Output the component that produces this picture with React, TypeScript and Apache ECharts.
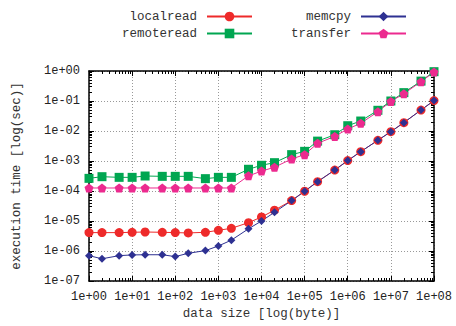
import React, { useEffect, useRef } from "react";
import * as echarts from "echarts";

const sizes = [1, 2, 5, 10, 20, 50, 100, 200, 500, 1e3, 2e3, 5e3, 1e4, 2e4, 5e4, 1e5, 2e5, 5e5, 1e6, 2e6, 5e6, 1e7, 2e7, 5e7, 1e8];
const localread = [4.1e-6, 4.1e-6, 4.1e-6, 4.2e-6, 4.3e-6, 4.2e-6, 4.1e-6, 4.0e-6, 4.2e-6, 4.9e-6, 5.7e-6, 8.8e-6, 1.36e-5, 2.3e-5, 4.8e-5, 9.8e-5, 2.05e-4, 5.0e-4, 1.03e-3, 2.05e-3, 4.9e-3, 9.5e-3, 1.9e-2, 0.05, 0.103];
const remoteread = [2.64e-4, 3.0e-4, 2.85e-4, 2.85e-4, 3.16e-4, 3.08e-4, 3.08e-4, 3.08e-4, 2.58e-4, 2.85e-4, 2.85e-4, 5.3e-4, 7.2e-4, 8.8e-4, 1.63e-3, 2.1e-3, 4.6e-3, 7.5e-3, 1.5e-2, 2.15e-2, 4.9e-2, 0.1, 0.19, 0.46, 0.95];
const memcpy = [7.0e-7, 5.5e-7, 7.0e-7, 7.4e-7, 7.5e-7, 7.5e-7, 6.5e-7, 8.4e-7, 1.03e-6, 1.47e-6, 2.3e-6, 5.5e-6, 1.0e-5, 1.95e-5, 4.8e-5, 9.8e-5, 2.05e-4, 5.0e-4, 1.03e-3, 2.05e-3, 4.9e-3, 9.5e-3, 1.9e-2, 0.05, 0.103];
const transfer = [1.26e-4, 1.26e-4, 1.26e-4, 1.26e-4, 1.26e-4, 1.26e-4, 1.26e-4, 1.26e-4, 1.26e-4, 1.26e-4, 1.26e-4, 3.2e-4, 4.6e-4, 6.2e-4, 1.17e-3, 1.63e-3, 3.9e-3, 6.6e-3, 1.17e-2, 1.8e-2, 4.4e-2, 0.097, 0.175, 0.44, 0.93];

const xMin = 1, xMax = 1e8;
const yMin = 1e-7, yMax = 1;

const FONT = "Liberation Mono";

function minorValues(lo: number, hi: number) {
  const out: number[] = [];
  for (let e = Math.round(Math.log10(lo)); e < Math.round(Math.log10(hi)); e++) {
    for (let k = 2; k <= 9; k++) out.push(k * Math.pow(10, e));
  }
  return out;
}

function fmt(v: number) {
  const e = Math.round(Math.log10(v));
  return "1e" + (e < 0 ? "-" : "+") + String(Math.abs(e)).padStart(2, "0");
}

export default function App() {
  const ref = useRef<HTMLDivElement>(null);
  useEffect(() => {
    if (!ref.current) return;
    const chart = echarts.init(ref.current, undefined, { renderer: "svg" });
    const pentagon = "path://M0,-10L9.51,-3.09L5.88,8.09L-5.88,8.09L-9.51,-3.09Z";
    const mk = (name: string, ys: number[], color: string, symbol: string, size: number) => ({
      name,
      type: "line",
      xAxisIndex: 0,
      yAxisIndex: 0,
      data: sizes.map((x, i) => [x, ys[i]]),
      symbol,
      symbolSize: size,
      lineStyle: { color, width: 1 },
      itemStyle: { color },
      emphasis: { disabled: true },
    });
    const border = { show: true, lineStyle: { color: "#000", width: 1.5 } };
    const baseX = { type: "log", logBase: 10, min: xMin, max: xMax, interval: 1 };
    const baseY = { type: "log", logBase: 10, min: yMin, max: yMax, interval: 1 };
    const hiddenLabel = { show: false };
    const majorTick = { show: true, inside: true, length: 5, lineStyle: { color: "#000" } };
    const minorTickX = { show: true, inside: true, length: 3, lineStyle: { color: "#000" }, customValues: minorValues(xMin, xMax) };
    const minorTickY = { show: true, inside: true, length: 3, lineStyle: { color: "#000" }, customValues: minorValues(yMin, yMax) };
    const option: any = {
      animation: false,
      grid: { left: 89, right: 22, top: 71, bottom: 45, containLabel: false },
      legend: [
        {
          data: ["localread", "remoteread"],
          orient: "vertical",
          align: "right",
          right: 203,
          top: 10,
          padding: 0,
          itemWidth: 45,
          itemHeight: 12,
          itemGap: 4,
          textStyle: { fontFamily: FONT, fontSize: 12.5, color: "#333", padding: [0, 5, 0, 0] },
        },
        {
          data: ["memcpy", "transfer"],
          orient: "vertical",
          align: "right",
          right: 49,
          top: 10,
          padding: 0,
          itemWidth: 45,
          itemHeight: 12,
          itemGap: 4,
          textStyle: { fontFamily: FONT, fontSize: 12.5, color: "#333", padding: [0, 5, 0, 0] },
        },
      ],
      xAxis: [
        {
          ...baseX,
          position: "bottom",
          name: "data size [log(byte)]",
          nameLocation: "middle",
          nameGap: 25,
          nameTextStyle: { fontFamily: FONT, fontSize: 12.5, color: "#333", verticalAlign: "top" },
          axisLine: border,
          axisTick: majorTick,
          axisLabel: { fontFamily: FONT, fontSize: 12, color: "#222", margin: 10, formatter: fmt },
          splitLine: { show: true, lineStyle: { color: "#999", type: [1, 2], width: 1 } },
        },
        { ...baseX, position: "bottom", axisLine: { show: false }, axisTick: minorTickX, axisLabel: hiddenLabel, splitLine: { show: false } },
        { ...baseX, position: "top", axisLine: border, axisTick: majorTick, axisLabel: hiddenLabel, splitLine: { show: false } },
        { ...baseX, position: "top", axisLine: { show: false }, axisTick: minorTickX, axisLabel: hiddenLabel, splitLine: { show: false } },
      ],
      yAxis: [
        {
          ...baseY,
          position: "left",
          name: "execution time [log(sec)]",
          nameLocation: "middle",
          nameGap: 66,
          nameTextStyle: { fontFamily: FONT, fontSize: 12.5, color: "#333" },
          axisLine: border,
          axisTick: majorTick,
          axisLabel: { fontFamily: FONT, fontSize: 12, color: "#222", margin: 9, formatter: fmt },
          splitLine: { show: true, lineStyle: { color: "#999", type: [1, 2], width: 1 } },
        },
        { ...baseY, position: "left", axisLine: { show: false }, axisTick: minorTickY, axisLabel: hiddenLabel, splitLine: { show: false } },
        { ...baseY, position: "right", axisLine: border, axisTick: majorTick, axisLabel: hiddenLabel, splitLine: { show: false } },
        { ...baseY, position: "right", axisLine: { show: false }, axisTick: minorTickY, axisLabel: hiddenLabel, splitLine: { show: false } },
      ],
      series: [
        mk("localread", localread, "#ee2a2a", "circle", 9),
        mk("remoteread", remoteread, "#00a651", "rect", 9),
        mk("memcpy", memcpy, "#2e3192", "diamond", 8),
        mk("transfer", transfer, "#ec2a8f", pentagon, 9),
      ],
    };
    chart.setOption(option);
    return () => chart.dispose();
  }, []);
  return <div ref={ref} style={{ width: 456, height: 326, position: "absolute", left: 0, top: 0 }} />;
}
